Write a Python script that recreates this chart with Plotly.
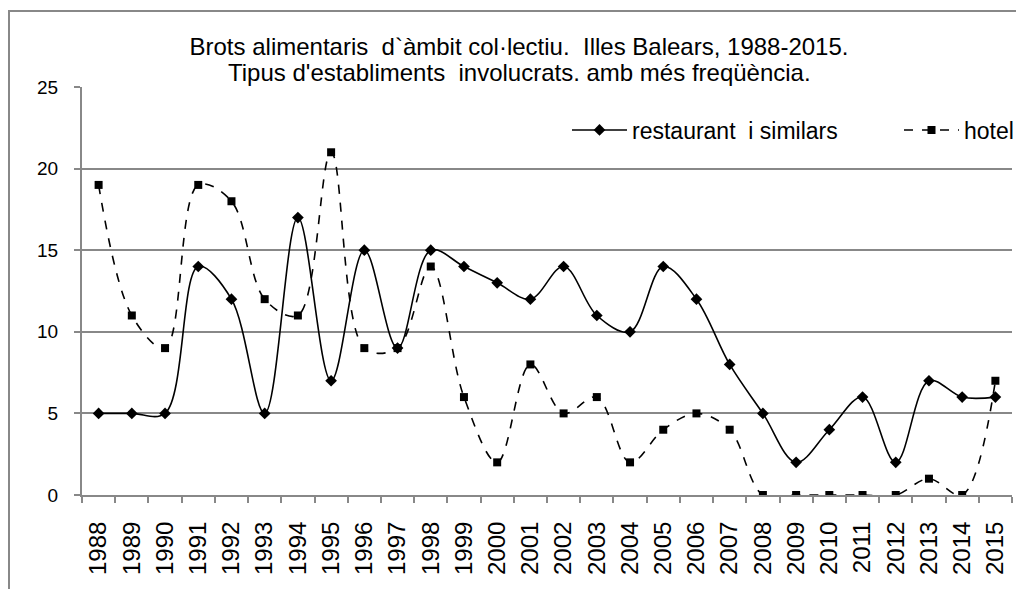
import plotly.graph_objects as go

years = [str(y) for y in range(1988, 2016)]
restaurant = [5, 5, 5, 14, 12, 5, 17, 7, 15, 9, 15, 14, 13, 12, 14, 11, 10, 14, 12, 8, 5, 2, 4, 6, 2, 7, 6, 6]
hotel = [19, 11, 9, 19, 18, 12, 11, 21, 9, 9, 14, 6, 2, 8, 5, 6, 2, 4, 5, 4, 0, 0, 0, 0, 0, 1, 0, 7]
y_ticks = [0, 5, 10, 15, 20, 25]

title_line1 = "Brots alimentaris  d`àmbit col·lectiu.  Illes Balears, 1988-2015."
title_line2 = "Tipus d'establiments  involucrats. amb més freqüència."

OFF = 8  # page body margin
W, H = 1024, 589
L, R, T, B = 82 - OFF, 1024 - (1012 - OFF), 87 - OFF, 589 - (495 - OFF)
pw, ph = W - L - R, H - T - B
FONT = "Liberation Sans, Arial, sans-serif"

fig = go.Figure()
fig.add_trace(go.Scatter(
    x=years, y=restaurant, name="restaurant  i similars", mode="lines+markers",
    line=dict(color="black", width=1.6, shape="spline", smoothing=1.0),
    marker=dict(symbol="diamond", size=9, color="black"),
))
fig.add_trace(go.Scatter(
    x=years, y=hotel, name="hotel", mode="lines+markers",
    line=dict(color="black", width=1.6, dash="dash", shape="spline", smoothing=1.0),
    marker=dict(symbol="square", size=8, color="black"),
))

fig.update_layout(
    width=W, height=H,
    margin=dict(l=L, r=R, t=T, b=B, autoexpand=False),
    paper_bgcolor="white", plot_bgcolor="white",
    font=dict(family=FONT, size=18, color="black"),
    title=dict(text=title_line1, x=(519 - OFF) / W, xanchor="center", y=1 - (47 - OFF) / H, yanchor="middle",
               font=dict(size=24, family=FONT)),
    annotations=[dict(text=title_line2, xref="paper", yref="paper",
                      x=(519 - OFF - L) / pw, y=(H - B - (73 - OFF)) / ph,
                      xanchor="center", yanchor="middle", showarrow=False,
                      font=dict(size=24, family=FONT))],
    showlegend=True,
    legend=dict(orientation="h", x=(567 - OFF - L) / pw, xanchor="left",
                y=(H - B - (130 - OFF)) / ph, yanchor="middle",
                bgcolor="rgba(0,0,0,0)", font=dict(size=23), itemwidth=55,
                entrywidth=262, entrywidthmode="pixels"),
    xaxis=dict(type="category", range=[-0.5, len(years) - 0.5], tickangle=-90, showgrid=False,
               showline=True, linecolor="#888888",
               linewidth=2, ticks="outside", ticklen=6, tickcolor="#888888", tickwidth=1.5,
               tickson="boundaries", tickfont=dict(size=24), zeroline=False, automargin=False,
               ticklabelstandoff=15),
    yaxis=dict(range=[0, 25], tickvals=y_ticks, showgrid=True, gridcolor="#888888", gridwidth=1.5,
               showline=True, linecolor="#888888", linewidth=2, ticks="outside", ticklen=6,
               tickcolor="#888888", tickwidth=1.5, tickfont=dict(size=19), zeroline=False,
               automargin=False, ticklabelstandoff=12),
)

fig.add_shape(type="rect", xref="paper", yref="paper",
              x0=(9 - OFF - L) / pw, x1=(W + 10 - L) / pw,
              y0=-(B + 20) / ph, y1=(H - B - (11 - OFF)) / ph,
              line=dict(color="#888888", width=2), fillcolor="rgba(0,0,0,0)", layer="below")

fig.write_html("out.html")
